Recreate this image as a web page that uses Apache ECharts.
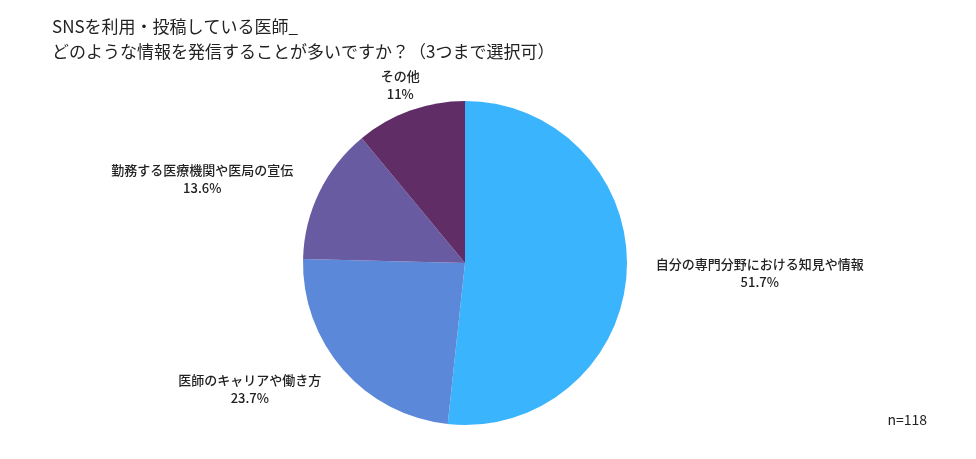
<!DOCTYPE html>
<html>
<head>
<meta charset="utf-8">
<script src="https://cdn.jsdelivr.net/npm/echarts@6/dist/echarts.min.js"></script>
<style>
html,body{margin:0;padding:0;background:#fff;}
#chart{width:976px;height:459px;}
</style>
</head>
<body>
<div id="chart"></div>
<script>
const titleText = 'SNSを利用・投稿している医師_\nどのような情報を発信することが多いですか？（3つまで選択可）';
const categories = ['自分の専門分野における知見や情報', '医師のキャリアや働き方', '勤務する医療機関や医局の宣伝', 'その他'];
const values = [51.7, 23.7, 13.6, 11];
const valueLabels = ['51.7%', '23.7%', '13.6%', '11%'];
const colors = ['#3ab5fd', '#5c88d9', '#695ba2', '#612d67'];
const noteText = 'n=118';

const FONT = '"Noto Sans CJK JP", "Noto Sans", sans-serif';
const total = values.reduce((a, b) => a + b, 0);
function midAngle(i) {
  let cum = 0;
  for (let k = 0; k < i; k++) cum += values[k];
  return (cum + values[i] / 2) / total * 2 * Math.PI;
}
const chart = echarts.init(document.getElementById('chart'));
chart.setOption({
  animation: false,
  backgroundColor: '#fff',
  title: [{
    text: titleText,
    left: 47, top: 9,
    textStyle: {fontFamily: FONT, fontSize: 17, fontWeight: 'normal', color: '#222', lineHeight: 25}
  }, {
    text: noteText,
    right: 44, top: 408,
    textStyle: {fontFamily: FONT, fontSize: 14, fontWeight: 'normal', color: '#222'}
  }],
  series: [{
    type: 'pie',
    center: [465, 263],
    radius: 162,
    startAngle: 90,
    clockwise: true,
    data: categories.map((c, i) => ({name: c, value: values[i], itemStyle: {color: colors[i]}})),
    label: {
      show: true,
      position: 'outside',
      formatter: p => '{c|' + p.name + '}\n{c|' + valueLabels[p.dataIndex] + '}',
      fontFamily: FONT,
      fontSize: 13,
      fontWeight: 500,
      color: '#222',
      lineHeight: 18,
      distanceToLabelLine: 0,
      rich: {
        c: {align: 'center', fontFamily: FONT, fontSize: 13, fontWeight: 500, color: '#222', lineHeight: 18}
      }
    },
    labelLine: {show: true, length: 29, length2: 0, lineStyle: {opacity: 0}},
    labelLayout: function (params) {
      const r = params.labelRect;
      const a = midAngle(params.dataIndex);
      if (Math.abs(Math.cos(a)) > 0.9) {
        const sign = Math.sin(a) < 0 ? 1 : -1;
        return {dx: sign * r.width / 2, dy: 2};
      }
      return {};
    },
    emphasis: {disabled: true}
  }]
});
</script>
</body>
</html>
